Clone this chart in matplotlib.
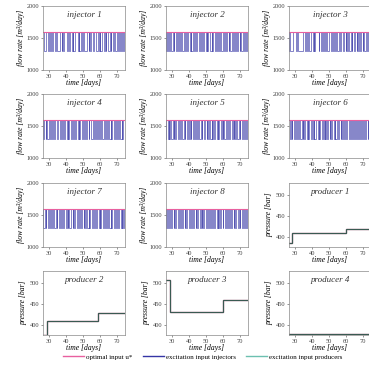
import numpy as np
import matplotlib.pyplot as plt
from matplotlib.lines import Line2D

plt.rcParams['font.family'] = ['Liberation Serif', 'DejaVu Serif']

t_start, t_end = 25, 75

# on/off pattern of the injector excitation (1 = high, 0 = low), half-day steps
inj_patterns = [
    "1011001110100101101100011010111001011010011101001011000110101101110010100110101100101101001101011010",
    "1101011010010110101101001101011010010110110100101101011001011010110100110101101001011010110100101101",
    "1101000011101100000111010110011010111101101011010011101011010010111011010100101101101010110100101101",
    "1010110100101101011001101001011010110100101101011010010110110010110101101001011010010110101101001011",
    "1101101010010101101101001011010101101011010010110110101001010110101101010010110110101010010110101101",
    "1011010110101101001010110101101010011010110101010110101101001011010101101101001010110101011010110101",
    "1010010110101101001011010010110101001101011010010110101001011010010110101101001010010110100101101010",
    "1101011010110101101001011010110110101101011010101101101011010110101011011010110101101011010110101101",
]
inj_high = 1600
inj_low = 1290
inj_optimal = 1600

# producer pressures: switch times and levels
prod_edges = [
    [25, 28.5, 60, 75],
    [25, 29, 59, 75],
    [25, 29, 60, 75],
    [25, 75],
]
prod_levels = [
    [385, 410, 418],
    [376, 410, 428],
    [507, 430, 460],
    [378],
]

pink = '#e8609f'
blue = '#3535a5'
teal = '#6cc0b0'
prod_line = '#3a5a52'

W, H = 369, 371
fig = plt.figure(figsize=(W / 100, H / 100), dpi=100)

col_left = [43, 166, 289]
row_top = [6, 94, 183, 271]
aw, ah = 82, 64

names = [f'injector {i}' for i in range(1, 9)] + [f'producer {i}' for i in range(1, 5)]

for k, name in enumerate(names):
    r, c = divmod(k, 3)
    ax = fig.add_axes([col_left[c] / W, 1 - (row_top[r] + ah) / H, aw / W, ah / H])
    if k < 8:
        vals = np.array([inj_high if ch == '1' else inj_low for ch in inj_patterns[k]])
        edges = np.linspace(t_start, t_end, len(vals) + 1)
        ax.stairs(vals, edges, color=blue, lw=0.5, alpha=0.85, baseline=None)
        ax.axhline(inj_optimal, color=pink, lw=0.8)
        ax.set_ylim(1000, 2000)
        ax.set_yticks([1000, 1500, 2000])
        ax.set_ylabel('flow rate [m³/day]', fontsize=5.5, style='italic', labelpad=1.5)
    else:
        j = k - 8
        ax.stairs(prod_levels[j], prod_edges[j], color=pink, lw=0.9, baseline=None)
        ax.stairs(prod_levels[j], prod_edges[j], color=prod_line, lw=0.9, baseline=None)
        ax.set_ylim(375, 530)
        ax.set_yticks([400, 450, 500])
        ax.set_ylabel('pressure [bar]', fontsize=5.5, style='italic', labelpad=1.5)
    ax.set_xlim(26.5, 75)
    ax.set_xticks([30, 40, 50, 60, 70])
    ax.set_xlabel('time [days]', fontsize=5.5, style='italic', labelpad=0.5)
    ax.text(0.5, 0.86, name, transform=ax.transAxes, ha='center', va='center',
            fontsize=6.5, style='italic', color='#333333')
    ax.tick_params(labelsize=4.6, length=1.5, width=0.4, pad=1.2, colors='#444444')
    for s in ax.spines.values():
        s.set_linewidth(0.5)
        s.set_color('#888888')

handles = [Line2D([], [], color=pink, lw=1.0),
           Line2D([], [], color=blue, lw=1.0),
           Line2D([], [], color=teal, lw=1.0)]
labels = ['optimal input u*', 'excitation input injectors', 'excitation input producers']
fig.legend(handles, labels, loc='center', bbox_to_anchor=(0.55, 0.038), ncol=3,
           frameon=False, fontsize=5, handlelength=3, columnspacing=1.5, handletextpad=0.3)

fig.savefig('out.png', dpi=100)
